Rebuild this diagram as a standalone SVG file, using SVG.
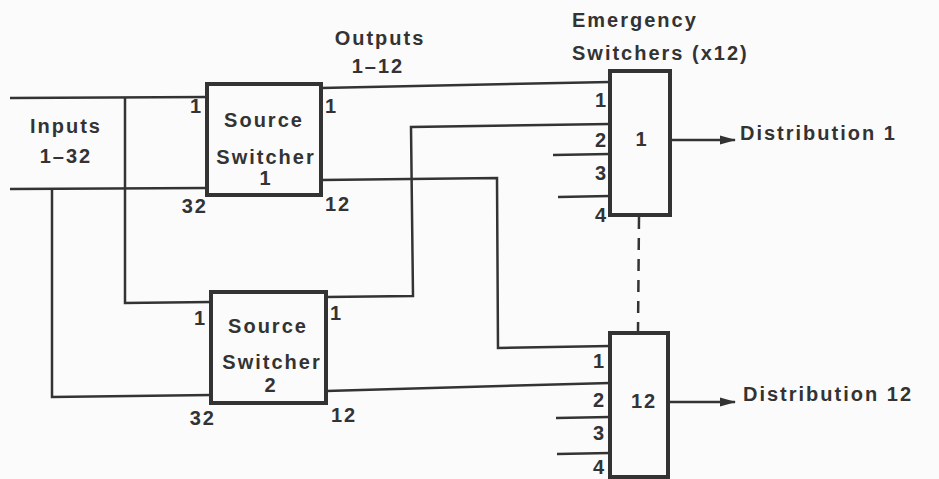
<svg xmlns="http://www.w3.org/2000/svg" width="939" height="479" viewBox="0 0 939 479">
<style>
.bx{fill:#fbfbfb;stroke:#333;stroke-width:4}
.ln{fill:none;stroke:#333;stroke-width:2.5}
.t{font-family:"Liberation Sans",Arial,sans-serif;font-weight:bold;font-size:20px;fill:#333;letter-spacing:2px}
.m{text-anchor:middle}
.e{text-anchor:end}
</style>
<defs>
<marker id="ah" markerWidth="16" markerHeight="10" refX="15" refY="5" orient="auto" markerUnits="userSpaceOnUse">
<path d="M0,0.5 L16,5 L0,9.5 Z" fill="#333"/>
</marker>
</defs>
<rect width="939" height="479" fill="#fbfbfb"/>
<g id="connectors">
<path class="ln" d="M10,98 L207,97"/>
<path class="ln" d="M10,189 L207,188"/>
<path class="ln" d="M125,97 L125,303 L211,302"/>
<path class="ln" d="M52,189 L52,397 L211,395"/>
<path class="ln" d="M321,88 L610,82"/>
<path class="ln" d="M321,180 L497,178 L498,348 L610,346"/>
<path class="ln" d="M326,297 L413,296 L411,127 L610,124"/>
<path class="ln" d="M326,391 L610,383"/>
<path class="ln" d="M553,155 L610,154"/>
<path class="ln" d="M558,197 L610,196"/>
<path class="ln" d="M556,418 L610,417"/>
<path class="ln" d="M557,454 L610,453"/>
<path class="ln" d="M670,140 L735,140" marker-end="url(#ah)"/>
<path class="ln" d="M668,402 L735,402" marker-end="url(#ah)"/>
<path class="ln" d="M639,217 L638,331" stroke-dasharray="12,9"/>
</g>
<g id="inputs-label">
<text class="t m" x="66" y="133">Inputs</text>
<text class="t m" x="66" y="163">1–32</text>
</g>
<g id="outputs-label">
<text class="t m" x="380" y="45">Outputs</text>
<text class="t m" x="378" y="73">1–12</text>
</g>
<g id="emergency-label">
<text class="t" x="572" y="27">Emergency</text>
<text class="t" x="572" y="60">Switchers (x12)</text>
</g>
<g id="source-switcher-1">
<rect class="bx" x="207" y="84" width="114" height="111"/>
<text class="t m" x="264" y="127">Source</text>
<text class="t m" x="266" y="164">Switcher</text>
<text class="t m" x="266" y="185">1</text>
<text class="t e" x="203" y="113">1</text>
<text class="t" x="325" y="113">1</text>
<text class="t e" x="208" y="213">32</text>
<text class="t" x="325" y="211">12</text>
</g>
<g id="source-switcher-2">
<rect class="bx" x="211" y="292" width="115" height="111"/>
<text class="t m" x="268" y="333">Source</text>
<text class="t m" x="272" y="369">Switcher</text>
<text class="t m" x="271" y="392">2</text>
<text class="t e" x="207" y="325">1</text>
<text class="t" x="330" y="320">1</text>
<text class="t e" x="216" y="425">32</text>
<text class="t" x="331" y="422">12</text>
</g>
<g id="emergency-switcher-1">
<rect class="bx" x="610" y="71" width="60" height="144"/>
<text class="t m" x="642" y="146">1</text>
<text class="t e" x="608" y="107">1</text>
<text class="t e" x="608" y="147">2</text>
<text class="t e" x="608" y="180">3</text>
<text class="t e" x="608" y="222">4</text>
</g>
<g id="emergency-switcher-12">
<rect class="bx" x="610" y="333" width="58" height="144"/>
<text class="t m" x="644" y="408">12</text>
<text class="t e" x="606" y="368">1</text>
<text class="t e" x="606" y="407">2</text>
<text class="t e" x="606" y="440">3</text>
<text class="t e" x="606" y="474">4</text>
</g>
<g id="distribution-1">
<text class="t" x="740" y="140">Distribution 1</text>
</g>
<g id="distribution-12">
<text class="t" x="743" y="401">Distribution 12</text>
</g>
</svg>
